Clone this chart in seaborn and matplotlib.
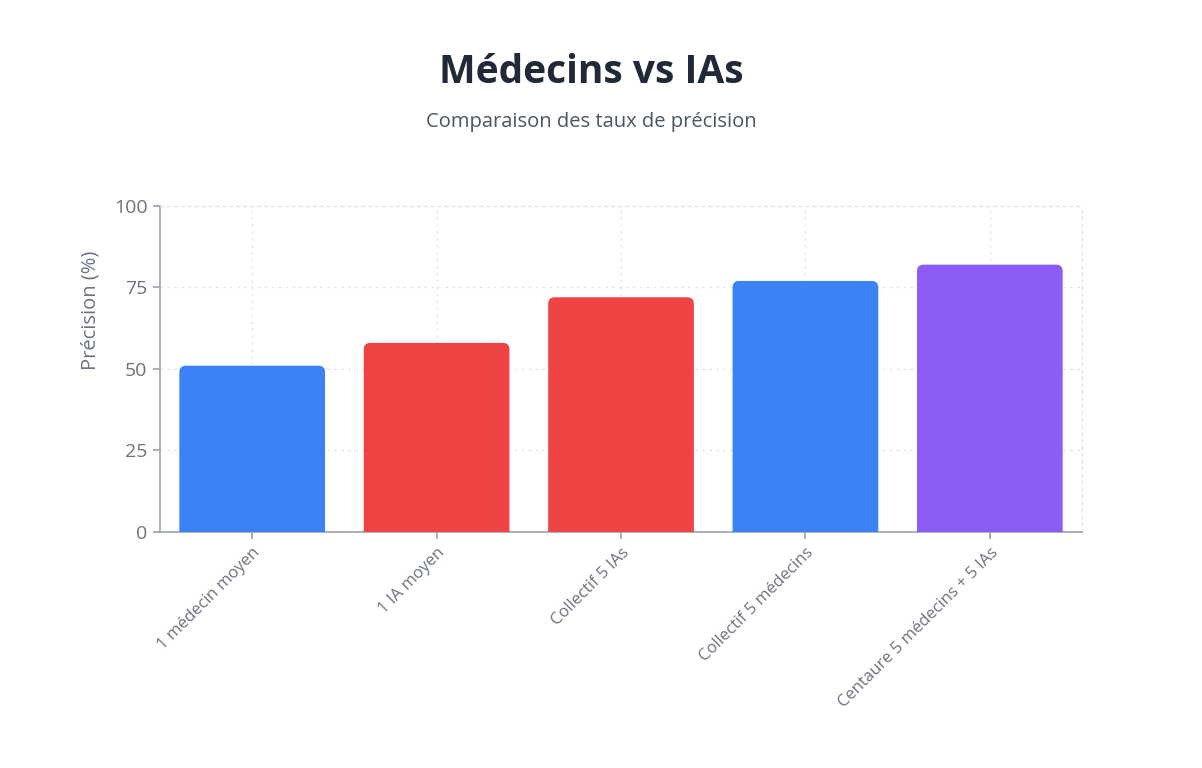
import numpy as np
import pandas as pd
import seaborn as sns
import matplotlib.pyplot as plt
from matplotlib.patches import FancyBboxPatch

# values
categories = ["1 médecin moyen", "1 IA moyen", "Collectif 5 IAs",
              "Collectif 5 médecins", "Centaure 5 médecins + 5 IAs"]
precision = [51, 58, 72, 77, 82]
bar_colors = ["#3b82f6", "#ef4444", "#ef4444", "#3b82f6", "#8b5cf6"]
y_ticks = [0, 25, 50, 75, 100]

sns.set_theme(style="white")
plt.rcParams["font.family"] = ["Open Sans", "DejaVu Sans"]

df = pd.DataFrame({"categorie": categories, "precision": precision})

fig = plt.figure(figsize=(12.02, 7.68), dpi=100)
ax = fig.add_axes([0.1331, 0.3073, 0.7671, 0.4245])

sns.barplot(data=df, x="categorie", y="precision", hue="categorie",
            palette=bar_colors, saturation=1, width=0.79, legend=False,
            ax=ax, zorder=3)

# swap plain rectangles for rounded-top bars (bottom rounding hidden below 0)
rx, ry = 0.035, 2.0
for patch in list(ax.patches):
    x, w, h = patch.get_x(), patch.get_width(), patch.get_height()
    color = patch.get_facecolor()
    patch.remove()
    rb = FancyBboxPatch((x, -5), w, h + 5,
                        boxstyle=f"round,pad=0,rounding_size={rx}",
                        mutation_aspect=ry / rx,
                        facecolor=color, edgecolor="none", zorder=3)
    ax.add_patch(rb)

ax.set_xlim(-0.5, 4.5)
ax.set_ylim(0, 100)
ax.set_yticks(y_ticks)
ax.set_yticklabels([str(t) for t in y_ticks], fontsize=14, color="#6b7280")

ax.set_xticks(range(len(categories)))
ax.set_xticklabels(categories, rotation=45, ha="right", rotation_mode="anchor",
                   fontsize=12, color="#6b7280")

ax.set_xlabel("")
ax.set_ylabel("Précision (%)", fontsize=14.5, color="#6b7280")
ax.yaxis.set_label_coords(-0.064, 0.68)

ax.grid(True, axis="both", linestyle=(0, (2, 3)), color="#e5e7eb",
        linewidth=1, zorder=0)
ax.tick_params(axis="both", which="both", length=5, color="#9ca3af",
               bottom=True, left=True, pad=4)

for side in ["left", "bottom"]:
    ax.spines[side].set_color("#9ca3af")
    ax.spines[side].set_linewidth(1.2)
for side in ["top", "right"]:
    ax.spines[side].set_color("#e5e7eb")
    ax.spines[side].set_linestyle((0, (2, 3)))
    ax.spines[side].set_linewidth(1)

fig.text(0.492, 0.906, "Médecins vs IAs", ha="center", va="center",
         fontsize=28, fontweight="bold", color="#1f2937")
fig.text(0.492, 0.841, "Comparaison des taux de précision", ha="center",
         va="center", fontsize=14.5, color="#4b5563")

fig.savefig("out.png", dpi=100, facecolor="white")
